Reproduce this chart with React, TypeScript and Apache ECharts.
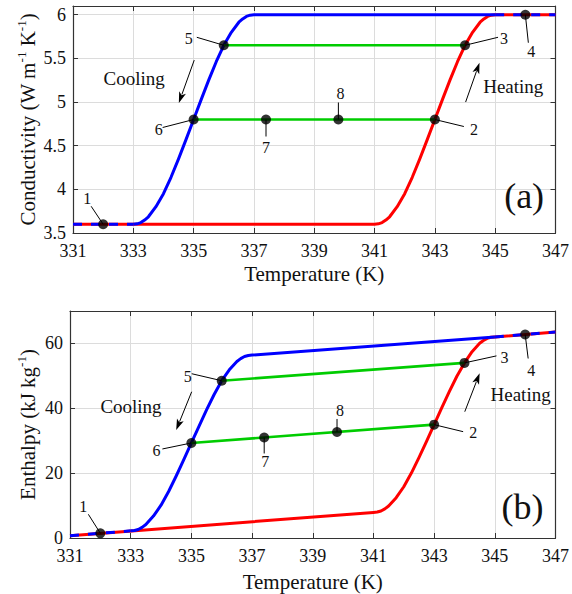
import React, { useEffect, useRef } from 'react';
import * as echarts from 'echarts';

const FONT = 'Liberation Serif';
const TXT = '#111';
const AXIS = '#333';

// ---------- (a) Conductivity ----------
const condHeatT = [331, 341, 341.125, 341.25, 341.375, 341.5, 341.75, 342, 342.25, 342.5, 342.75, 343, 343.25, 343.5, 343.75, 344, 344.25, 344.5, 344.625, 344.75, 344.875, 345, 347];
const condHeatK = [3.6, 3.6, 3.605, 3.619, 3.648, 3.686, 3.802, 3.95, 4.138, 4.349, 4.572, 4.8, 5.028, 5.251, 5.462, 5.65, 5.798, 5.914, 5.952, 5.981, 5.995, 6.0, 6.0];
const condCoolT = [333, 333.125, 333.25, 333.375, 333.5, 333.75, 334, 334.25, 334.5, 334.75, 335, 335.25, 335.5, 335.75, 336, 336.25, 336.5, 336.625, 336.75, 336.875, 337, 345];
const condCoolK = [3.6, 3.605, 3.619, 3.648, 3.686, 3.802, 3.95, 4.138, 4.349, 4.572, 4.8, 5.028, 5.251, 5.462, 5.65, 5.798, 5.914, 5.952, 5.981, 5.995, 6.0, 6.0];
const condOverlapLowT = [331, 333];
const condOverlapLowK = [3.6, 3.6];
const condOverlapHighT = [345, 347];
const condOverlapHighK = [6.0, 6.0];
const condLowerT = [335, 343];
const condLowerK = [4.8, 4.8];
const condUpperT = [336, 344];
const condUpperK = [5.65, 5.65];

// ---------- (b) Enthalpy ----------
const enthHeatT = [331, 341, 341.125, 341.25, 341.375, 341.5, 341.75, 342, 342.25, 342.5, 342.75, 343, 343.25, 343.5, 343.75, 344, 344.25, 344.5, 344.625, 344.75, 344.875, 345, 347];
const enthHeatH = [0.7, 7.9, 8.01, 8.33, 8.98, 9.85, 12.44, 15.8, 20.02, 24.78, 29.81, 34.95, 40.09, 45.12, 49.88, 54.0, 57.46, 60.05, 60.92, 61.57, 61.89, 62.0, 63.5];
const enthCoolT = [333, 333.125, 333.25, 333.375, 333.5, 333.75, 334, 334.25, 334.5, 334.75, 335, 335.25, 335.5, 335.75, 336, 336.25, 336.5, 336.625, 336.75, 336.875, 337, 345];
const enthCoolH = [2.2, 2.31, 2.63, 3.28, 4.15, 6.75, 10.11, 14.34, 19.11, 24.15, 29.3, 34.45, 39.49, 44.26, 48.5, 51.85, 54.45, 55.32, 55.97, 56.29, 56.4, 62.0];
const enthOverlapLowT = [331, 333];
const enthOverlapLowH = [0.7, 2.2];
const enthOverlapHighT = [345, 347];
const enthOverlapHighH = [62.0, 63.5];
const enthLowerT = [335, 343];
const enthLowerH = [29.3, 34.95];
const enthUpperT = [336, 344];
const enthUpperH = [48.5, 54.0];

// ---------- state points ----------
const pointLabels = ['1', '2', '3', '4', '5', '6', '7', '8'];
const pointT = [332, 343, 344, 346, 336, 335, 337.4, 339.8];
const condPointK = [3.6, 4.8, 5.65, 6.0, 5.65, 4.8, 4.8, 4.8];
const enthPointH = [1.45, 34.95, 54.0, 62.75, 48.5, 29.3, 31.0, 32.7];

// tick settings
const tempMin = 331, tempMax = 347, tempStep = 2;
const condMin = 3.5, condMax = 6.1, condStep = 0.5;
const enthMin = 0, enthMax = 70, enthStep = 20;

// annotation layout (pixel offsets from each state point)
const condLabelOffset = [[-16, -26], [39, 10], [39, -7], [6, 37], [-35, -7], [-35, 10], [0, 28], [2, -26]];
const condLeaderEnd = [[-12, -18], [29, 7], [33, -8], [3, 28], [-27, -8], [-31, 8], [0, 17], [0, -17]];
const enthLabelOffset = [[-17, -27], [39, 8], [40, -5], [6, 36], [-34, -4], [-35, 8], [1, 24], [3, -21]];
const enthLeaderEnd = [[-12, -19], [29, 7], [32, -7], [3, 24], [-30, -7], [-29, 6], [0, 16], [0, -13]];

// arrows / texts in data coordinates
const condNotes = {
  coolArrow: [[335.02, 5.48], [334.51, 4.99]],
  heatArrow: [[344.02, 5.0], [344.48, 5.45]],
  coolText: [333.03, 5.27],
  heatText: [345.6, 5.18],
  tag: [345.96, 3.92],
  tagText: '(a)',
};
const enthNotes = {
  coolArrow: [[335.01, 45.1], [334.5, 33.3]],
  heatArrow: [[344.01, 38.95], [344.5, 50.8]],
  coolText: [333.01, 40.5],
  heatText: [345.85, 44.1],
  tag: [345.91, 9.7],
  tagText: '(b)',
};

const zip = (a: number[], b: number[]) => a.map((v, i) => [v, b[i]]);

function line(grid: number, data: number[][], color: string, width: number, type: any = 'solid', z = 2) {
  return {
    type: 'line',
    xAxisIndex: grid,
    yAxisIndex: grid,
    data,
    symbol: 'none',
    showSymbol: false,
    silent: true,
    lineStyle: { color, width, type, cap: 'butt', join: 'round' },
    z,
  };
}

function mainX(grid: number, nameGap: number) {
  return {
    type: 'value',
    gridIndex: grid,
    min: tempMin,
    max: tempMax,
    interval: tempStep,
    position: 'bottom',
    name: 'Temperature (K)',
    nameLocation: 'middle',
    nameGap,
    nameMoveOverlap: false,
    nameTextStyle: { fontFamily: FONT, fontSize: 21, color: TXT },
    axisLine: { show: true, onZero: false, lineStyle: { color: AXIS, width: 1.2 } },
    axisTick: { show: true, inside: true, length: 5, lineStyle: { color: AXIS } },
    axisLabel: { fontFamily: FONT, fontSize: 18, color: TXT, margin: 9 },
    splitLine: { show: true, lineStyle: { color: '#dcdcdc', width: 1 } },
  };
}
function topX(grid: number) {
  return {
    type: 'value',
    gridIndex: grid,
    min: tempMin,
    max: tempMax,
    interval: tempStep,
    position: 'top',
    axisLine: { show: true, onZero: false, lineStyle: { color: AXIS, width: 1.2 } },
    axisTick: { show: true, inside: true, length: 5, lineStyle: { color: AXIS } },
    axisLabel: { show: false },
    splitLine: { show: false },
  };
}
function mainY(grid: number, min: number, max: number, step: number, name: string, nameGap: number) {
  return {
    type: 'value',
    gridIndex: grid,
    min,
    max,
    interval: step,
    position: 'left',
    name,
    nameLocation: 'middle',
    nameGap,
    nameMoveOverlap: false,
    nameTextStyle: {
      fontFamily: FONT,
      fontSize: 21,
      color: TXT,
      rich: {
        b: { fontFamily: FONT, fontSize: 21, color: TXT, lineHeight: 26 },
        sup: { fontFamily: FONT, fontSize: 13, color: TXT, lineHeight: 13, verticalAlign: 'top' },
      },
    },
    axisLine: { show: true, onZero: false, lineStyle: { color: AXIS, width: 1.2 } },
    axisTick: { show: true, inside: true, length: 5, lineStyle: { color: AXIS } },
    axisLabel: { fontFamily: FONT, fontSize: 18, color: TXT, margin: 7, showMaxLabel: false },
    splitLine: { show: true, lineStyle: { color: '#dcdcdc', width: 1 } },
  };
}
function rightY(grid: number, min: number, max: number, step: number) {
  return {
    type: 'value',
    gridIndex: grid,
    min,
    max,
    interval: step,
    position: 'right',
    axisLine: { show: true, onZero: false, lineStyle: { color: AXIS, width: 1.2 } },
    axisTick: { show: true, inside: true, length: 5, lineStyle: { color: AXIS } },
    axisLabel: { show: false },
    splitLine: { show: false },
  };
}

function panelSeries(grid: number, p: any) {
  return [
    line(grid, zip(p.heatT, p.heatY), '#ff0000', 3, 'solid', 2),
    line(grid, zip(p.coolT, p.coolY), '#0000ff', 3, 'solid', 3),
    line(grid, zip(p.lowT, p.lowY), '#0000ff', 3, [9, 9], 4),
    line(grid, zip(p.highT, p.highY), '#0000ff', 3, [9, 9], 4),
    line(grid, zip(p.gLowT, p.gLowY), '#00cc00', 2.6, 'solid', 3),
    line(grid, zip(p.gUpT, p.gUpY), '#00cc00', 2.6, 'solid', 3),
    {
      type: 'scatter',
      xAxisIndex: grid,
      yAxisIndex: grid,
      data: zip(pointT, p.points),
      symbol: 'circle',
      symbolSize: 10,
      itemStyle: { color: '#000' },
      silent: true,
      z: 10,
    },
  ];
}

function arrowShapes(a: number[], b: number[]) {
  const dx = b[0] - a[0], dy = b[1] - a[1];
  const len = Math.hypot(dx, dy);
  const ux = dx / len, uy = dy / len;
  const px = -uy, py = ux;
  const hl = 11, hw = 3.6;
  const bx = b[0] - ux * hl, by = b[1] - uy * hl;
  return [
    { type: 'line', shape: { x1: a[0], y1: a[1], x2: bx + ux * 2, y2: by + uy * 2 }, style: { stroke: '#000', lineWidth: 1 }, z: 20 },
    {
      type: 'polygon',
      shape: { points: [[b[0], b[1]], [bx + px * hw, by + py * hw], [b[0] - ux * hl * 0.75, b[1] - uy * hl * 0.75], [bx - px * hw, by - py * hw]] },
      style: { fill: '#000' },
      z: 20,
    },
  ];
}

function text(x: number, y: number, s: string, size: number) {
  return {
    type: 'text',
    x,
    y,
    z: 20,
    style: { text: s, fontFamily: FONT, fontSize: size, fill: TXT, align: 'center', verticalAlign: 'middle' },
  };
}

export default function App() {
  const ref = useRef<HTMLDivElement>(null);
  useEffect(() => {
    const chart = echarts.init(ref.current!, null, { renderer: 'svg' });
    const option: any = {
      animation: false,
      backgroundColor: '#fff',
      textStyle: { fontFamily: FONT },
      grid: [
        { left: 73, right: 12, top: 6, height: 227 },
        { left: 70, right: 12, top: 311, height: 227 },
      ],
      xAxis: [mainX(0, 30), mainX(1, 33), topX(0), topX(1)],
      yAxis: [
        mainY(0, condMin, condMax, condStep, '{b|Conductivity (W m}{sup|-1}{b| K}{sup|-1}{b|)}', 32),
        mainY(1, enthMin, enthMax, enthStep, '{b|Enthalpy (kJ kg}{sup|-1}{b|)}', 29),
        rightY(0, condMin, condMax, condStep),
        rightY(1, enthMin, enthMax, enthStep),
      ],
      series: [
        ...panelSeries(0, {
          heatT: condHeatT, heatY: condHeatK, coolT: condCoolT, coolY: condCoolK,
          lowT: condOverlapLowT, lowY: condOverlapLowK, highT: condOverlapHighT, highY: condOverlapHighK,
          gLowT: condLowerT, gLowY: condLowerK, gUpT: condUpperT, gUpY: condUpperK, points: condPointK,
        }),
        ...panelSeries(1, {
          heatT: enthHeatT, heatY: enthHeatH, coolT: enthCoolT, coolY: enthCoolH,
          lowT: enthOverlapLowT, lowY: enthOverlapLowH, highT: enthOverlapHighT, highY: enthOverlapHighH,
          gLowT: enthLowerT, gLowY: enthLowerH, gUpT: enthUpperT, gUpY: enthUpperH, points: enthPointH,
        }),
      ],
    };
    chart.setOption(option);

    const graphics: any[] = [];
    const panels = [
      { idx: 0, ys: condPointK, lab: condLabelOffset, lead: condLeaderEnd, notes: condNotes },
      { idx: 1, ys: enthPointH, lab: enthLabelOffset, lead: enthLeaderEnd, notes: enthNotes },
    ];
    panels.forEach((p) => {
      const finder = { xAxisIndex: p.idx, yAxisIndex: p.idx };
      const px = (v: number[]) => chart.convertToPixel(finder as any, v) as number[];
      pointLabels.forEach((lbl, i) => {
        const c = px([pointT[i], p.ys[i]]);
        graphics.push({
          type: 'line',
          shape: { x1: c[0], y1: c[1], x2: c[0] + p.lead[i][0], y2: c[1] + p.lead[i][1] },
          style: { stroke: '#000', lineWidth: 1 },
          z: 5,
        });
        graphics.push(text(c[0] + p.lab[i][0], c[1] + p.lab[i][1], lbl, 16));
      });
      const n = p.notes;
      graphics.push(...arrowShapes(px(n.coolArrow[0]), px(n.coolArrow[1])));
      graphics.push(...arrowShapes(px(n.heatArrow[0]), px(n.heatArrow[1])));
      const ct = px(n.coolText);
      graphics.push(text(ct[0], ct[1], 'Cooling', 19));
      const ht = px(n.heatText);
      graphics.push(text(ht[0], ht[1], 'Heating', 19));
      const tg = px(n.tag);
      graphics.push(text(tg[0], tg[1], n.tagText, 36));
    });
    chart.setOption({ graphic: graphics });
    return () => chart.dispose();
  }, []);
  return <div ref={ref} style={{ position: 'fixed', left: 0, top: 0, width: 572, height: 594 }} />;
}
